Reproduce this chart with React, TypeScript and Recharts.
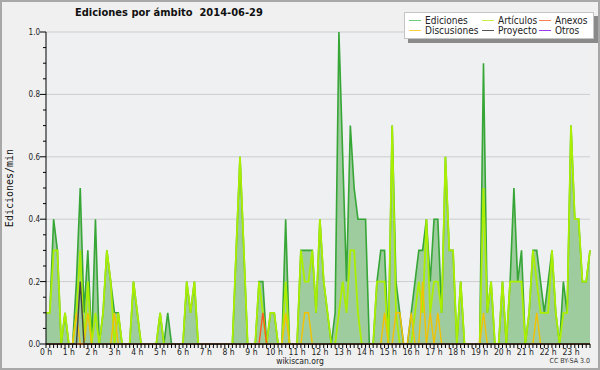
import { Area, CartesianGrid, ComposedChart, Legend, Line, XAxis, YAxis } from 'recharts';

// 10-minute slots of the day, 0 = 00:00, 143 = 23:50
const SLOTS = Array.from({ length: 144 }, (_, i) => i);

const HOUR_LABELS = [
  '0 h', '1 h', '2 h', '3 h', '4 h', '5 h', '6 h', '7 h', '8 h', '9 h', '10 h', '11 h',
  '12 h', '13 h', '14 h', '15 h', '16 h', '17 h', '18 h', '19 h', '20 h', '21 h', '22 h', '23 h',
];

const Y_TICKS = [
  0, 0.05, 0.1, 0.15, 0.2, 0.25, 0.3, 0.35, 0.4, 0.45, 0.5,
  0.55, 0.6, 0.65, 0.7, 0.75, 0.8, 0.85, 0.9, 0.95, 1,
];
const GRID_VALUES = [0.2, 0.4, 0.6, 0.8, 1];

const EDICIONES = [
  0.1, 0.1, 0.4, 0.3, 0, 0.1, 0, 0, 0.2, 0.5, 0.1, 0.3,
  0, 0.4, 0, 0.1, 0.3, 0.2, 0.1, 0.1, 0, 0, 0, 0.2,
  0.1, 0, 0, 0, 0, 0, 0.1, 0, 0.1, 0, 0, 0,
  0, 0.2, 0.1, 0.2, 0, 0, 0, 0, 0, 0, 0, 0,
  0, 0, 0.3, 0.6, 0.3, 0, 0, 0, 0.2, 0.2, 0, 0.1,
  0.1, 0, 0, 0.4, 0, 0, 0, 0.3, 0.3, 0.3, 0.3, 0.1,
  0.4, 0.2, 0.1, 0, 0.1, 1.0, 0.6, 0.2, 0.7, 0.5, 0.4, 0.4,
  0.4, 0, 0, 0.2, 0.3, 0.3, 0, 0.7, 0.2, 0.1, 0, 0,
  0.1, 0.2, 0.3, 0.3, 0.4, 0.2, 0.4, 0.4, 0.1, 0.6, 0.3, 0.3,
  0, 0.2, 0, 0, 0, 0, 0, 0.9, 0.1, 0.2, 0, 0,
  0.2, 0, 0.2, 0.5, 0.2, 0.3, 0, 0.1, 0.3, 0.3, 0.2, 0.1,
  0.2, 0.3, 0.1, 0, 0.2, 0.1, 0.7, 0.4, 0.4, 0.2, 0.2, 0.3,
];

const ARTICULOS = [
  0.1, 0.1, 0.3, 0.3, 0, 0.1, 0, 0, 0.1, 0.3, 0, 0.2,
  0, 0.1, 0, 0.1, 0.3, 0.2, 0, 0.1, 0, 0, 0, 0.2,
  0.1, 0, 0, 0, 0, 0, 0.1, 0, 0, 0, 0, 0,
  0, 0.2, 0.1, 0.2, 0, 0, 0, 0, 0, 0, 0, 0,
  0, 0, 0.3, 0.6, 0.3, 0, 0, 0, 0.2, 0.1, 0, 0.1,
  0.1, 0, 0, 0.2, 0, 0, 0, 0.3, 0.2, 0.2, 0.3, 0.1,
  0.4, 0.2, 0.1, 0, 0, 0.1, 0.2, 0.1, 0.3, 0.3, 0.1, 0,
  0, 0, 0, 0.2, 0.2, 0.2, 0, 0.7, 0.1, 0, 0, 0,
  0, 0.1, 0.2, 0.1, 0.4, 0.1, 0.2, 0.2, 0.1, 0.6, 0.3, 0.3,
  0, 0.2, 0, 0, 0, 0, 0, 0.5, 0.1, 0.2, 0, 0,
  0.2, 0, 0.2, 0.2, 0.2, 0.2, 0, 0.1, 0.3, 0.2, 0.1, 0.1,
  0.1, 0.3, 0.1, 0, 0.1, 0.1, 0.7, 0.4, 0.4, 0.2, 0.2, 0.3,
];

const DISCUSIONES = [
  0, 0, 0, 0, 0, 0, 0, 0, 0.1, 0, 0, 0.1,
  0, 0, 0, 0, 0, 0, 0.1, 0, 0, 0, 0, 0,
  0, 0, 0, 0, 0, 0, 0, 0, 0, 0, 0, 0,
  0, 0, 0, 0, 0, 0, 0, 0, 0, 0, 0, 0,
  0, 0, 0, 0, 0, 0, 0, 0, 0, 0, 0, 0,
  0, 0, 0, 0.1, 0, 0, 0, 0, 0.1, 0.1, 0, 0,
  0, 0, 0, 0, 0, 0, 0, 0, 0, 0, 0, 0,
  0, 0, 0, 0, 0, 0.1, 0, 0, 0.1, 0.1, 0, 0,
  0.1, 0, 0, 0.2, 0, 0.1, 0, 0.1, 0, 0, 0, 0,
  0, 0, 0, 0, 0, 0, 0, 0.1, 0, 0, 0, 0,
  0, 0, 0, 0, 0, 0, 0, 0, 0, 0.1, 0, 0,
  0, 0, 0, 0, 0, 0, 0, 0, 0, 0, 0, 0,
];

const ANEXOS = [
  0, 0, 0, 0, 0, 0, 0, 0, 0, 0, 0, 0,
  0, 0, 0, 0, 0, 0, 0, 0, 0, 0, 0, 0,
  0, 0, 0, 0, 0, 0, 0, 0, 0, 0, 0, 0,
  0, 0, 0, 0, 0, 0, 0, 0, 0, 0, 0, 0,
  0, 0, 0, 0, 0, 0, 0, 0, 0, 0.1, 0, 0,
  0, 0, 0, 0, 0, 0, 0, 0, 0, 0, 0, 0,
  0, 0, 0, 0, 0, 0, 0, 0, 0, 0, 0, 0,
  0, 0, 0, 0, 0, 0, 0, 0, 0, 0, 0, 0,
  0, 0, 0, 0, 0, 0, 0, 0, 0, 0, 0, 0,
  0, 0, 0, 0, 0, 0, 0, 0, 0, 0, 0, 0,
  0, 0, 0, 0, 0, 0, 0, 0, 0, 0, 0, 0,
  0, 0, 0, 0, 0, 0, 0, 0, 0, 0, 0, 0,
];

const PROYECTO = [
  0, 0, 0, 0, 0, 0, 0, 0, 0, 0.2, 0, 0,
  0, 0, 0, 0, 0, 0, 0, 0, 0, 0, 0, 0,
  0, 0, 0, 0, 0, 0, 0, 0, 0, 0, 0, 0,
  0, 0, 0, 0, 0, 0, 0, 0, 0, 0, 0, 0,
  0, 0, 0, 0, 0, 0, 0, 0, 0, 0, 0, 0,
  0, 0, 0, 0, 0, 0, 0, 0, 0, 0, 0, 0,
  0, 0, 0, 0, 0, 0, 0, 0, 0, 0, 0, 0,
  0, 0, 0, 0, 0, 0, 0, 0, 0, 0, 0, 0,
  0, 0, 0, 0, 0, 0, 0, 0, 0, 0, 0, 0,
  0, 0, 0, 0, 0, 0, 0, 0, 0, 0, 0, 0,
  0, 0, 0, 0, 0, 0, 0, 0, 0, 0, 0, 0,
  0, 0, 0, 0, 0, 0, 0, 0, 0, 0, 0, 0,
];

const LEGEND_ITEMS = [
  { name: 'Ediciones', color: '#6fcf7f', col: 0, row: 0 },
  { name: 'Artículos', color: '#c8f040', col: 1, row: 0 },
  { name: 'Anexos', color: '#ff7f50', col: 2, row: 0 },
  { name: 'Discusiones', color: '#ffd23c', col: 0, row: 1 },
  { name: 'Proyecto', color: '#555555', col: 1, row: 1 },
  { name: 'Otros', color: '#9b3cf0', col: 2, row: 1 },
];

const FONT = "'DejaVu Sans Condensed', 'DejaVu Sans', sans-serif";
const COL_X = [4, 77, 134];

const data = SLOTS.map((slot) => ({
  slot,
  ediciones: EDICIONES[slot],
  articulos: ARTICULOS[slot],
  discusiones: DISCUSIONES[slot],
  anexos: ANEXOS[slot],
  proyecto: PROYECTO[slot],
}));

function XTick({ x, y, payload }: any) {
  const slot = payload.value;
  const label = slot % 6 === 0 ? HOUR_LABELS[slot / 6] : null;
  return (
    <g>
      <line x1={x} x2={x} y1={y} y2={y + 4} stroke="#000" />
      {label && (
        <text x={x} y={y + 11} textAnchor="middle" fontSize={8.5} fontFamily={FONT} fill="#222">
          {label}
        </text>
      )}
    </g>
  );
}

function YTick({ x, y, payload }: any) {
  const v = payload.value;
  const major = Math.round(v * 100) % 20 === 0;
  return (
    <g>
      <line x1={x - (major ? 6 : 3)} x2={x} y1={y} y2={y} stroke="#000" />
      {major && (
        <text x={x - 6} y={y + 3} textAnchor="end" fontSize={8} fontFamily={FONT} fill="#222">
          {v.toFixed(1)}
        </text>
      )}
    </g>
  );
}

function LegendBox() {
  return (
    <div
      style={{
        position: 'relative',
        width: 190,
        height: 27,
        boxSizing: 'border-box',
        background: '#fff',
        border: '1px solid #c4c4c4',
        boxShadow: '4px 4px 0 #8a8a8a',
        fontFamily: FONT,
        fontSize: 10,
        color: '#222',
      }}
    >
      {LEGEND_ITEMS.map((item) => (
        <div
          key={item.name}
          style={{
            position: 'absolute',
            left: COL_X[item.col],
            top: item.row === 0 ? 1 : 11.5,
            display: 'flex',
            alignItems: 'center',
            height: 12,
            whiteSpace: 'nowrap',
          }}
        >
          <span style={{ display: 'inline-block', width: 12, height: 1, background: item.color, marginRight: 4 }} />
          {item.name}
        </div>
      ))}
    </div>
  );
}

export default function App() {
  return (
    <div style={{ position: 'fixed', left: 0, top: 0, width: 600, height: 370, background: '#f0f0f0' }}>
      <ComposedChart width={600} height={370} data={data} margin={{ top: 32, right: 10, bottom: 6, left: 0 }}>
        <CartesianGrid
          vertical={false}
          horizontalValues={GRID_VALUES}
          stroke="#cdcdcd"
          fill="#eef0f2"
          fillOpacity={1}
        />
        <XAxis
          dataKey="slot"
          type="number"
          domain={[0, 143]}
          ticks={SLOTS}
          interval={0}
          height={20}
          tickSize={0}
          tickMargin={0}
          tickLine={false}
          tick={<XTick />}
          axisLine={{ stroke: '#000' }}
        />
        <YAxis
          type="number"
          domain={[0, 1]}
          ticks={Y_TICKS}
          interval={0}
          width={46}
          tickSize={0}
          tickMargin={0}
          tickLine={false}
          tick={<YTick />}
          axisLine={{ stroke: '#000' }}
        />
        <Area
          type="linear"
          dataKey="ediciones"
          stroke="#36a636"
          strokeWidth={1.6}
          fill="#9fcc9f"
          fillOpacity={1}
          dot={false}
          activeDot={false}
          isAnimationActive={false}
        />
        <Line type="linear" dataKey="articulos" stroke="#aaee00" strokeWidth={1.8} dot={false} activeDot={false} isAnimationActive={false} />
        <Line type="linear" dataKey="discusiones" stroke="#f2c200" strokeWidth={1.4} dot={false} activeDot={false} isAnimationActive={false} />
        <Line type="linear" dataKey="anexos" stroke="#ff5a1e" strokeWidth={1.4} dot={false} activeDot={false} isAnimationActive={false} />
        <Line type="linear" dataKey="proyecto" stroke="#444444" strokeWidth={1.4} dot={false} activeDot={false} isAnimationActive={false} />
        <Legend
          layout="horizontal"
          verticalAlign="middle"
          align="center"
          content={<LegendBox />}
          wrapperStyle={{ left: 404, top: 12, width: 190, height: 27 }}
        />
      </ComposedChart>
      <div
        style={{
          position: 'absolute',
          left: 75,
          top: 6,
          fontFamily: FONT,
          fontWeight: 'bold',
          fontSize: 11,
          color: '#111',
          whiteSpace: 'pre',
        }}
      >
        {'Ediciones por ámbito  2014-06-29'}
      </div>
      <div
        style={{
          position: 'absolute',
          left: 9,
          top: 188,
          transform: 'translate(-50%, -50%) rotate(-90deg)',
          fontFamily: "'DejaVu Sans Mono', monospace",
          fontSize: 10,
          color: '#111',
          whiteSpace: 'nowrap',
        }}
      >
        Ediciones/min
      </div>
      <div
        style={{
          position: 'absolute',
          left: 300,
          top: 356,
          transform: 'translateX(-50%)',
          fontFamily: FONT,
          fontSize: 8.5,
          color: '#222',
        }}
      >
        wikiscan.org
      </div>
      <div
        style={{
          position: 'absolute',
          right: 10,
          top: 357,
          fontFamily: FONT,
          fontSize: 7,
          color: '#333',
        }}
      >
        CC BY-SA 3.0
      </div>
      <div
        style={{
          position: 'absolute',
          inset: 0,
          border: '2px solid #a8a8a8',
          boxSizing: 'border-box',
          pointerEvents: 'none',
        }}
      />
    </div>
  );
}
